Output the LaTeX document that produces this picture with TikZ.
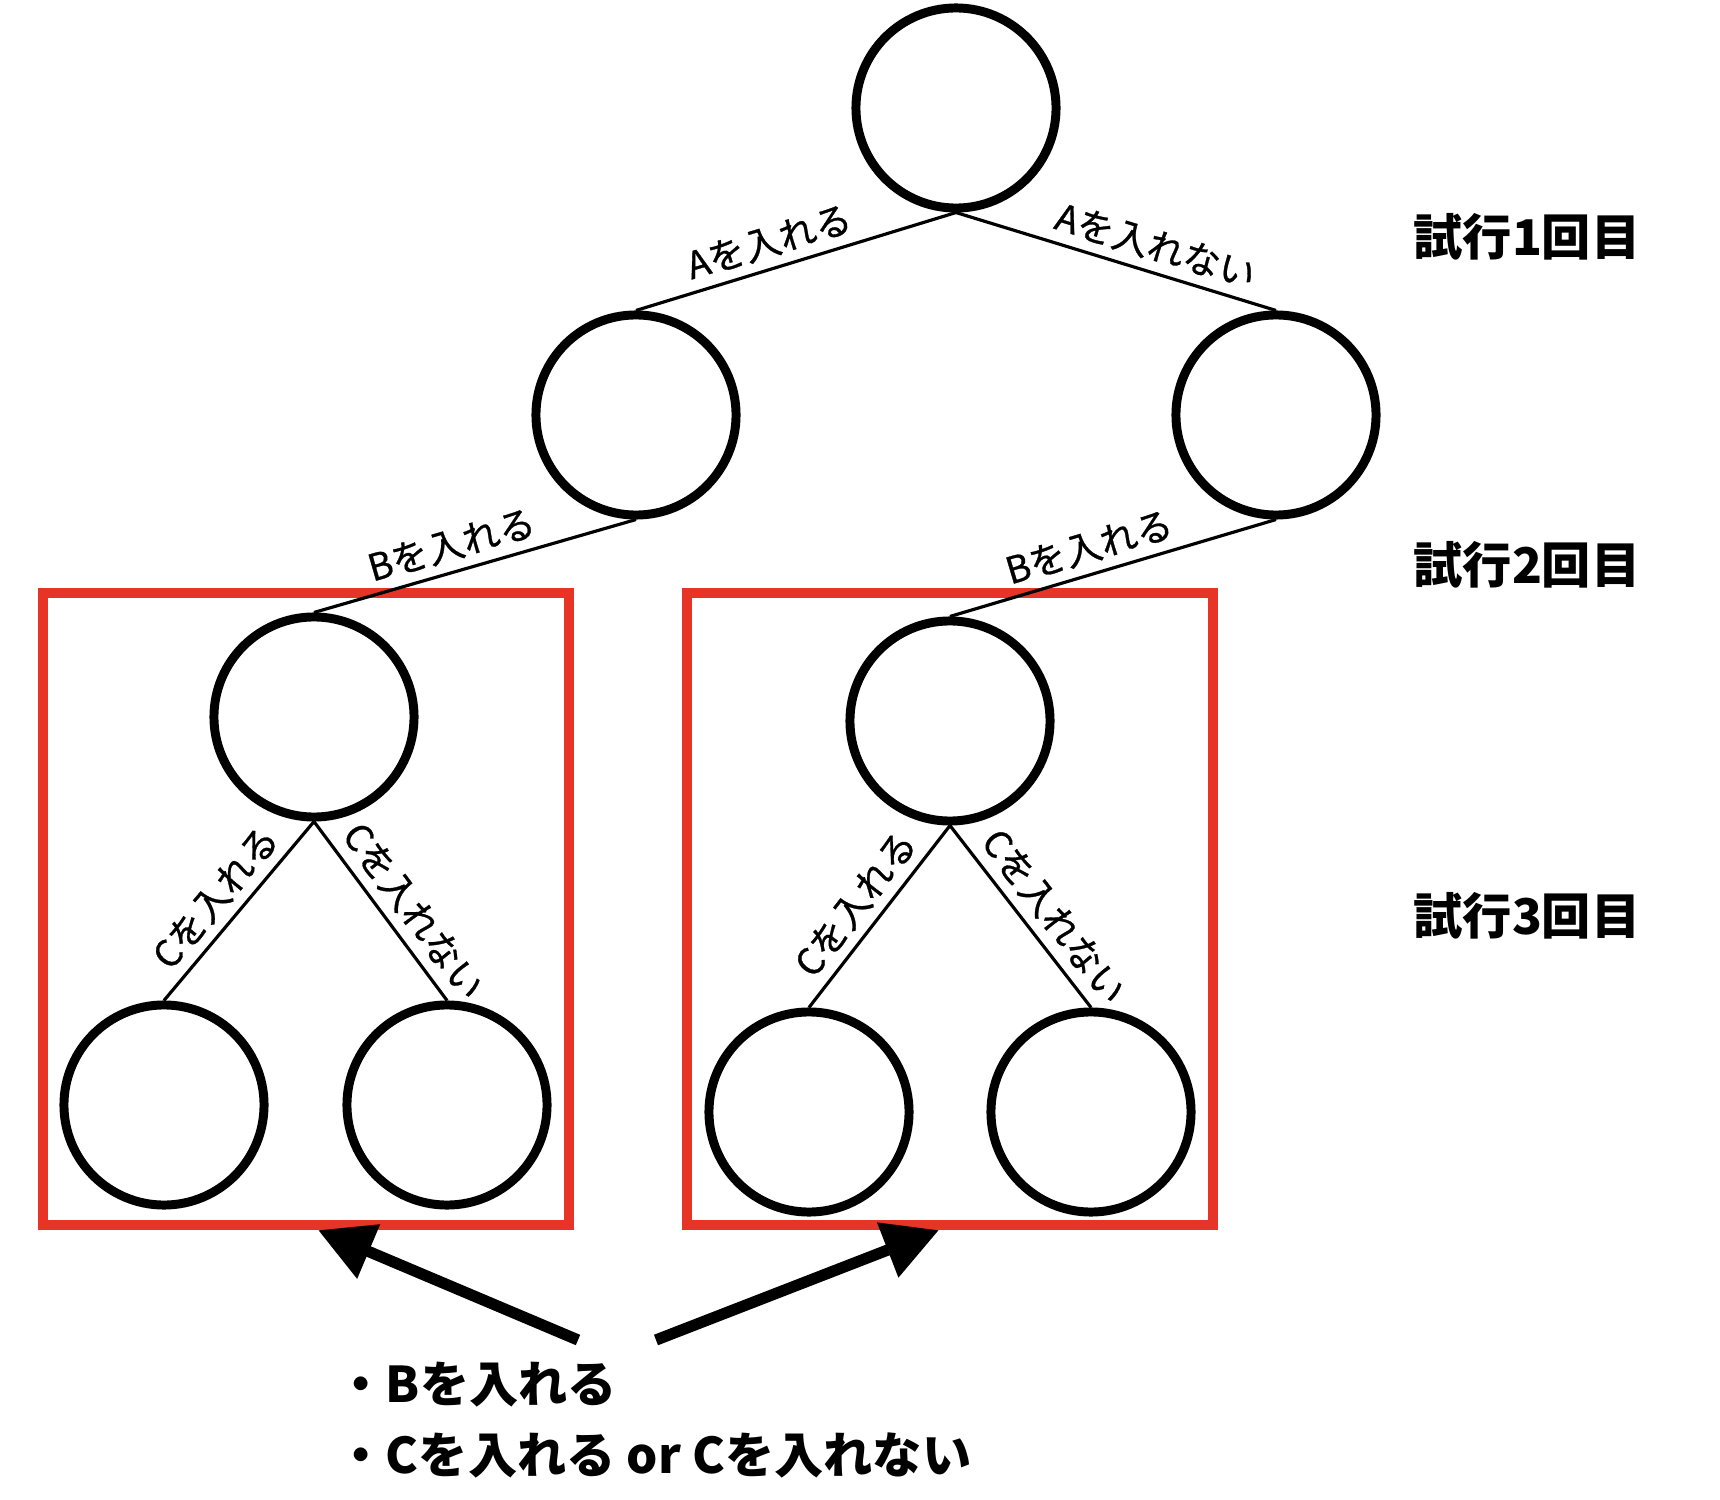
\documentclass[tikz,border=0pt]{standalone}
\usepackage{fontspec}
\newfontfamily\jp{Noto Sans CJK JP}
\newfontfamily\jpm{Noto Sans CJK JP}[FakeBold=0.8]
\usetikzlibrary{arrows.meta, positioning}

\definecolor{boxred}{RGB}{232,52,38}

\tikzset{
  tnode/.style={circle, draw=black, line width=2.55pt, minimum size=2.0cm, inner sep=0pt},
  edge/.style={line width=0.9pt},
  elab/.style={font=\jpm\fontsize{10.5pt}{12pt}\selectfont, sloped, above, inner sep=2.5pt},
  redbox/.style={draw=boxred, line width=2.8pt, minimum width=5.26cm, minimum height=6.32cm, inner sep=0pt},
  trial/.style={font=\jp\bfseries\fontsize{14pt}{16pt}\selectfont},
  note/.style={font=\jp\bfseries\fontsize{14pt}{20pt}\selectfont, align=left, inner sep=0pt},
  bigarrow/.style={line width=3.2pt, -{Triangle[length=0.55cm, width=0.56cm]}}
}

\begin{document}
\begin{tikzpicture}[x=0.01cm, y=-0.01cm]
    % Page frame (pixel units, y downwards)
    \fill[white] (0,0) rectangle (1720,1500);
    \useasboundingbox (0,0) rectangle (1720,1500);

    % Red boxes round the B subtrees
    \node[redbox] (boxL) at (306,909) {};
    \node[redbox] (boxR) at (950,909) {};

    % Tree nodes
    \node[tnode] (root) at (956,108) {};
    \node[tnode] (inA)  at (636,415) {};
    \node[tnode] (outA) at (1276,415) {};
    \node[tnode] (inB1) at (314,717) {};
    \node[tnode] (inB2) at (950,721) {};
    \node[tnode] (c11)  at (164,1105) {};
    \node[tnode] (c12)  at (447,1105) {};
    \node[tnode] (c21)  at (809,1112) {};
    \node[tnode] (c22)  at (1091,1112) {};

    % Branches with their labels
    \draw[edge] (root.south) -- (inA.north)  node[elab, pos=0.56] {Aを入れる};
    \draw[edge] (root.south) -- (outA.north) node[elab, pos=0.6] {Aを入れない};
    \draw[edge] (inA.south)  -- (inB1.north) node[elab, pos=0.55] {Bを入れる};
    \draw[edge] (outA.south) -- (inB2.north) node[elab, pos=0.55] {Bを入れる};
    \foreach \b/\l/\r in {inB1/c11/c12, inB2/c21/c22} {
      \draw[edge] (\b.south) -- (\l.north) node[elab, pos=0.52] {Cを入れる};
      \draw[edge] (\b.south) -- (\r.north) node[elab, pos=0.59] {Cを入れない};
    }

    % Trial labels on the right
    \foreach \n/\y in {1/237, 2/565, 3/916}
      \node[trial] (trial\n) at (1527,\y) {試行\n{}回目};

    % Note and arrows to the boxes
    \node[note, anchor=west] (note) at (336,1420) {・Bを入れる\\・Cを入れる or Cを入れない};
    \coordinate (fromL) at (578,1340);
    \coordinate (fromR) at (656,1340);
    \draw[bigarrow] (fromL) -- ([xshift=0.12cm]boxL.south);
    \draw[bigarrow] (fromR) -- ([xshift=-0.11cm]boxR.south);
\end{tikzpicture}
\end{document}
